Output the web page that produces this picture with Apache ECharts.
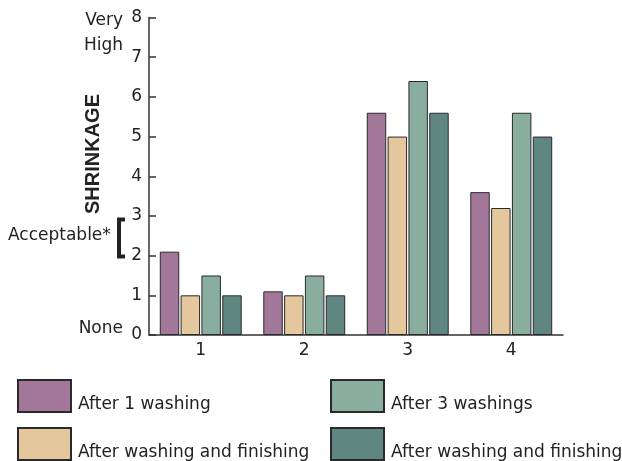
<!DOCTYPE html>
<html>
<head>
<meta charset="utf-8">
<script src="https://cdn.jsdelivr.net/npm/echarts@6/dist/echarts.min.js"></script>
<style>html,body{margin:0;padding:0;background:#fff}#c{width:622px;height:461px}</style>
</head>
<body>
<div id="c"></div>
<script>
const categories = ['1', '2', '3', '4'];
const seriesNames = ['After 1 washing', 'After washing and finishing', 'After 3 washings', 'After washing and finishing '];
const after1Washing = [2.1, 1.1, 5.6, 3.6];
const afterWashFinish1 = [1.0, 1.0, 5.0, 3.2];
const after3Washings = [1.5, 1.5, 6.4, 5.6];
const afterWashFinish3 = [1.0, 1.0, 5.6, 5.0];
const yTicks = [0, 1, 2, 3, 4, 5, 6, 7, 8];
const colors = ['#a27799', '#e5c79d', '#89ae9f', '#5f8681'];

const FONT = 'DejaVu Sans, sans-serif';
const chart = echarts.init(document.getElementById('c'), null, {renderer: 'canvas'});
const values = [after1Washing, afterWashFinish1, after3Washings, afterWashFinish3];

const legendPos = [[17, 379], [17, 427], [330, 379], [330, 427]];
const legends = seriesNames.map((n, i) => ({
  data: [n], left: legendPos[i][0], top: legendPos[i][1], padding: 0,
  itemWidth: 53, itemHeight: 32, icon: 'rect', selectedMode: false,
  formatter: name => '{t|' + name + '}',
  textStyle: {color: '#222', fontFamily: FONT, fontSize: 17,
    rich: {t: {fontSize: 17, color: '#222', fontFamily: FONT, padding: [18, 0, 0, 2]}}}
}));

chart.setOption({
  animation: false,
  textStyle: {fontFamily: FONT},
  grid: {left: 149, top: 17.5, right: 59, bottom: 126, containLabel: false},
  xAxis: {
    type: 'category', data: categories,
    axisLine: {lineStyle: {color: '#333', width: 1.5}},
    axisTick: {inside: true, length: 6, lineStyle: {color: '#333', width: 1.5}},
    axisLabel: {color: '#222', fontSize: 17, margin: 7, fontFamily: FONT}
  },
  yAxis: {
    type: 'value', min: yTicks[0], max: yTicks[yTicks.length - 1], interval: 1,
    splitLine: {show: false},
    axisLine: {show: true, lineStyle: {color: '#333', width: 1.5}},
    axisTick: {show: true, inside: true, length: 7, lineStyle: {color: '#333', width: 1.5}},
    axisLabel: {color: '#222', fontSize: 17, margin: 7, fontFamily: FONT}
  },
  legend: legends,
  series: values.map((v, i) => ({
    name: seriesNames[i], type: 'bar', data: v,
    barWidth: '18.8%', barGap: '7%',
    itemStyle: {color: colors[i], borderColor: '#2a2a2a', borderWidth: 1}
  })),
  graphic: [
    {type: 'text', x: 123, y: 21, style: {text: 'Very', font: '17px ' + FONT, fill: '#222', textAlign: 'right', textVerticalAlign: 'middle'}},
    {type: 'text', x: 123, y: 46, style: {text: 'High', font: '17px ' + FONT, fill: '#222', textAlign: 'right', textVerticalAlign: 'middle'}},
    {type: 'text', x: 123, y: 329, style: {text: 'None', font: '17px ' + FONT, fill: '#222', textAlign: 'right', textVerticalAlign: 'middle'}},
    {type: 'text', x: 8, y: 236, style: {text: 'Acceptable*', font: '17px ' + FONT, fill: '#222', textAlign: 'left', textVerticalAlign: 'middle'}},
    {type: 'text', x: 93, y: 154, rotation: Math.PI / 2,
     style: {text: 'SHRINKAGE', font: 'bold 20px Liberation Sans, Arial, sans-serif', fill: '#222', textAlign: 'center', textVerticalAlign: 'middle'}},
    {type: 'polyline', shape: {points: [[125, 219.5], [119, 219.5], [119, 256.5], [125, 256.5]]},
     style: {stroke: '#222', lineWidth: 4, fill: null}}
  ]
});
</script>
</body>
</html>
